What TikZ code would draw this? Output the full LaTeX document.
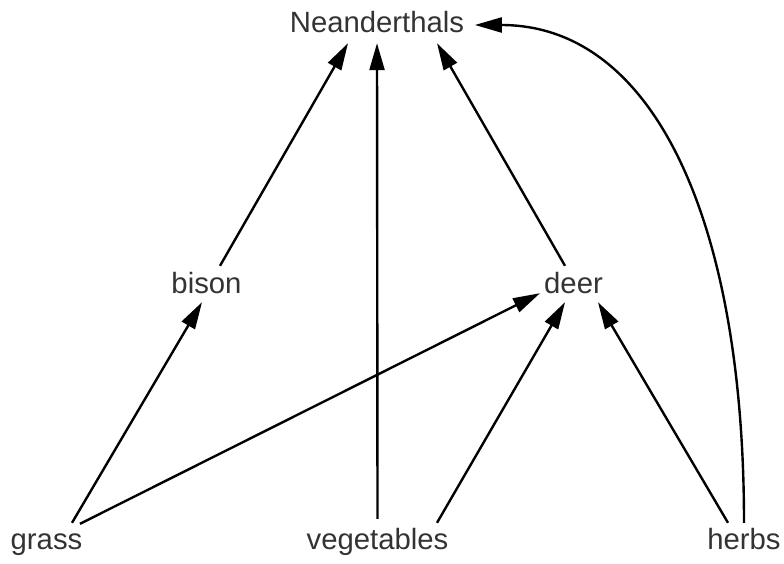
\documentclass[tikz,border=0pt]{standalone}
\usepackage{fontspec}
\setmainfont{Liberation Sans}
\usepackage{tikz}
\usetikzlibrary{arrows.meta,calc}

\begin{document}
\begin{tikzpicture}[x=1pt, y=-1pt, every node/.style={font=\fontsize{29.3}{35}\selectfont, text=black!80},
  lbl/.style={anchor=base, inner sep=0pt, text height=20pt, text depth=0pt},
  arr/.style={line width=2.4pt, -{Triangle[length=27pt, width=15pt]}}]
\useasboundingbox (0,0) rectangle (784,563);
\node[lbl] (nean) at (377,32) {Neanderthals};
\node[lbl] (bison) at (206.5,293) {bison};
\node[lbl] (deer) at (573.5,293) {deer};
\node[lbl] (grass) at (46.5,549) {grass};
\node[lbl] (veg) at (377.5,549) {vegetables};
\node[lbl] (herbs) at (744,549) {herbs};
\draw[arr] ($(bison.north)+(13.5,-7)$) -- ($(nean.south)+(-29,11)$);
\draw[arr] ($(veg.north)+(0,-10)$) -- ($(nean.south)+(0,11)$);
\draw[arr] ($(deer.north)+(-8.5,-7)$) -- ($(nean.south)+(60,11)$);
\draw[arr] ($(herbs.north)+(0,-6)$) .. controls +(0,-300) and +(180,0) .. ($(nean.east)+(10.5,3)$);
\draw[arr] ($(grass.north)+(25.5,-6)$) -- ($(bison.south)+(-4.5,9)$);
\draw[arr] ($(grass.north)+(33.5,-5)$) -- ($(deer.south)+(-33.5,0)$);
\draw[arr] ($(veg.north)+(59.5,-6)$) -- ($(deer.south)+(-8.5,9)$);
\draw[arr] ($(herbs.north)+(-16,-6)$) -- ($(deer.south)+(24.5,9)$);
\end{tikzpicture}
\end{document}
